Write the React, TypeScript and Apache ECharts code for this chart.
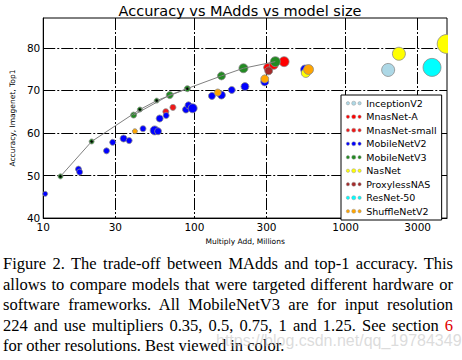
import React, { useEffect, useRef } from "react";
import * as echarts from "echarts";

const xTicks = [10, 30, 100, 300, 1000, 3000];
const yTicks = [40, 50, 60, 70, 80];

// [MAdds (millions), top-1 accuracy, marker size]
const inceptionV2 = [[1914, 74.8, 13]];
const mnasnetA = [[305, 75.4, 8], [335, 76.0, 9], [392, 76.75, 10]];
const mnasnetSmall = [[64.7, 65.0, 6], [72.1, 66.0, 6]];
const mobilenetV2 = [
  [10.3, 45.7, 5], [17.1, 51.5, 6], [17.4, 50.8, 6], [26.2, 55.8, 6], [28.8, 57.8, 6],
  [34.0, 58.7, 7], [37.0, 58.2, 6], [45.7, 61.0, 6], [54.6, 60.6, 9], [57.5, 60.4, 7],
  [58.9, 63.4, 7], [65.0, 64.1, 6], [87.9, 65.5, 7], [91.4, 66.5, 7], [97.4, 65.8, 9],
  [130.6, 68.7, 7], [151, 68.9, 8], [176.6, 70.1, 7], [216, 70.9, 8], [292, 72.0, 8],
  [540, 74.9, 9],
];
const mobilenetV3Large = [[39.6, 64.2, 6], [68.7, 68.9, 7], [151, 73.4, 8], [211, 75.2, 9], [343, 76.75, 10]];
const mobilenetV3Small = [[13.0, 49.8, 5], [20.9, 58.0, 5], [43.6, 65.5, 5], [56.3, 67.6, 5], [89.8, 70.4, 6]];
const nasnet = [[546, 74.1, 9], [2254, 78.6, 13], [4667, 80.9, 19]];
const proxylessNAS = [[310, 74.6, 8]];
const resnet50 = [[3733, 75.4, 18]];
const shuffleNetV2 = [[40.4, 60.4, 5], [142.8, 69.5, 7], [292, 72.7, 8], [569, 74.9, 10]];

const groups: [string, number[][], string][] = [
  ["InceptionV2", inceptionV2, "#add8e6"],
  ["MnasNet-A", mnasnetA, "#ff0000"],
  ["MnasNet-small", mnasnetSmall, "#f01818"],
  ["MobileNetV2", mobilenetV2, "#0000ff"],
  ["MobileNetV3", [...mobilenetV3Large, ...mobilenetV3Small], "#228b22"],
  ["NasNet", nasnet, "#ffff00"],
  ["ProxylessNAS", proxylessNAS, "#a52a2a"],
  ["ResNet-50", resnet50, "#00ffff"],
  ["ShuffleNetV2", shuffleNetV2, "#ffa500"],
];

const caption = [
  "Figure 2. The trade-off between MAdds and top-1 accuracy. This",
  "allows to compare models that were targeted different hardware or",
  "software frameworks.  All MobileNetV3 are for input resolution",
];

const SANS = "DejaVu Sans";
const dots =
  "path://M0,3a2,2 0 1,0 4,0a2,2 0 1,0 -4,0M6.5,3a2.5,2.5 0 1,0 5,0a2.5,2.5 0 1,0 -5,0M14,3a2,2 0 1,0 4,0a2,2 0 1,0 -4,0";

export default function App() {
  const ref = useRef<HTMLDivElement>(null);
  useEffect(() => {
    if (!ref.current) return;
    const chart = echarts.init(ref.current, undefined, { renderer: "svg" });
    const gridLine = { show: true, lineStyle: { color: "#000", width: 1, type: [12, 2, 2, 2] } };
    const series: any[] = groups.map(([name, data, color]) => ({
      name,
      type: "scatter",
      data,
      symbolSize: (v: number[]) => v[2],
      itemStyle: { color, borderColor: "#8a8a8a", borderWidth: 0.8, opacity: 1 },
      z: 3,
    }));
    series.splice(5, 0,
      {
        name: "v3-large-line",
        type: "line",
        data: mobilenetV3Large.map((d) => [d[0], d[1]]),
        showSymbol: false,
        symbol: "none",
        lineStyle: { color: "#808080", width: 1 },
        z: 4,
      },
      {
        name: "v3-small-line",
        type: "line",
        data: mobilenetV3Small.map((d) => [d[0], d[1]]),
        symbol: "circle",
        symbolSize: 2.5,
        itemStyle: { color: "#000" },
        lineStyle: { color: "#808080", width: 1 },
        z: 4,
      }
    );
    chart.setOption({
      animation: false,
      textStyle: { fontFamily: SANS },
      grid: { left: 33, right: 15, top: 18, bottom: 25, show: true, borderColor: "#000", borderWidth: 1 },
      graphic: [
        {
          type: "text",
          x: 240,
          y: 11,
          style: { text: "Accuracy vs MAdds vs model size", fontFamily: SANS, fontSize: 14.5, fill: "#000", textAlign: "center", textVerticalAlign: "middle" },
        },
        { type: "rect", shape: { x: 448, y: 25, width: 14, height: 35 }, style: { fill: "#fff" }, z: 10 },
      ],
      legend: {
        data: groups.map((g) => g[0]),
        orient: "vertical",
        left: 341,
        top: 95,
        icon: dots,
        itemWidth: 15,
        itemHeight: 5,
        itemGap: 0,
        padding: [1.5, 5, 2, 5],
        backgroundColor: "#fff",
        borderColor: "#000",
        borderWidth: 1,
        borderRadius: 0,
        textStyle: { fontFamily: SANS, fontSize: 9.5, color: "#000", lineHeight: 13.5 },
        itemStyle: { borderWidth: 0.5, borderColor: "#999" },
        selectedMode: false,
        z: 20,
      },
      xAxis: {
        type: "log",
        logBase: 10,
        min: 10,
        max: 4690,
        name: "Multiply Add, Millions",
        nameLocation: "middle",
        nameGap: 18,
        nameTextStyle: { fontFamily: SANS, fontSize: 7.5, color: "#000" },
        axisLine: { show: true, lineStyle: { color: "#000", width: 1 } },
        axisTick: { show: false, customValues: xTicks },
        axisLabel: { customValues: xTicks, formatter: (v: number) => String(Math.round(v)), fontFamily: SANS, fontSize: 10.5, color: "#000", margin: 3 },
        splitLine: gridLine,
        minorTick: { show: false },
      },
      yAxis: {
        type: "value",
        min: 40,
        max: 87,
        interval: 10,
        name: "Accuracy, Imagenet, Top1",
        nameLocation: "middle",
        nameGap: 21,
        nameTextStyle: { fontFamily: SANS, fontSize: 7.5, color: "#000" },
        axisLine: { show: true, lineStyle: { color: "#000", width: 1 } },
        axisTick: { show: false, customValues: yTicks },
        axisLabel: { customValues: yTicks, fontFamily: SANS, fontSize: 10.5, color: "#000", margin: 3 },
        splitLine: gridLine,
      },
      series,
    });
    return () => chart.dispose();
  }, []);

  const lineStyle: React.CSSProperties = {
    whiteSpace: "nowrap",
    textAlign: "justify",
    textAlignLast: "justify",
    height: 20.6,
    lineHeight: "20.6px",
  };

  return (
    <div style={{ position: "absolute", left: 0, top: 0, width: 462, height: 360, background: "#fff", overflow: "hidden" }}>
      <div ref={ref} style={{ position: "absolute", left: 0, top: 0, width: 462, height: 250 }} />
      <div
        style={{
          position: "absolute",
          left: 3,
          top: 254,
          width: 450,
          fontFamily: "Liberation Serif",
          fontSize: 16.5,
          color: "#000",
        }}
      >
        {caption.map((t, i) => (
          <div key={i} style={lineStyle}>{t}</div>
        ))}
        <div style={lineStyle}>
          224 and use multipliers 0.35, 0.5, 0.75, 1 and 1.25. See section <span style={{ color: "#e00000" }}>6</span>
        </div>
        <div style={{ ...lineStyle, textAlign: "left", textAlignLast: "left" }}>for other resolutions. Best viewed in color.</div>
      </div>
      <div
        style={{
          position: "absolute",
          left: 216,
          top: 332,
          fontFamily: "Liberation Sans",
          fontSize: 16,
          color: "rgba(190,190,190,0.55)",
          whiteSpace: "nowrap",
        }}
      >
        https://blog.csdn.net/qq_19784349
      </div>
    </div>
  );
}
